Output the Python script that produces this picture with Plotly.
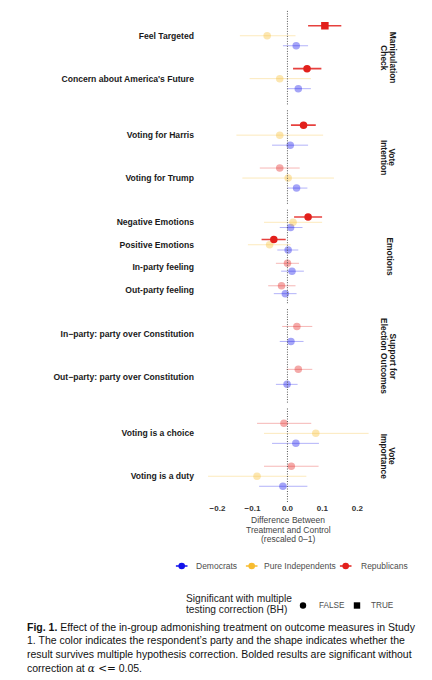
import plotly.graph_objects as go
from plotly.subplots import make_subplots

# facets (top to bottom) and the outcomes shown in each
facets = ["Manipulation Check", "Vote Intention", "Emotions",
          "Support for Election Outcomes", "Vote Importance"]
facet_strips = [["Manipulation", "Check"], ["Vote", "Intention"], ["Emotions"],
                ["Support for", "Election Outcomes"], ["Vote", "Importance"]]
facet_outcomes = [
    ["Feel Targeted", "Concern about America's Future"],
    ["Voting for Harris", "Voting for Trump"],
    ["Negative Emotions", "Positive Emotions", "In-party feeling", "Out-party feeling"],
    ["In\u2212party: party over Constitution", "Out\u2212party: party over Constitution"],
    ["Voting is a choice", "Voting is a duty"],
]

# estimates
outcome = [
    "Feel Targeted", "Feel Targeted", "Feel Targeted",
    "Concern about America's Future", "Concern about America's Future", "Concern about America's Future",
    "Voting for Harris", "Voting for Harris", "Voting for Harris",
    "Voting for Trump", "Voting for Trump", "Voting for Trump",
    "Negative Emotions", "Negative Emotions", "Negative Emotions",
    "Positive Emotions", "Positive Emotions", "Positive Emotions",
    "In-party feeling", "In-party feeling",
    "Out-party feeling", "Out-party feeling",
    "In\u2212party: party over Constitution", "In\u2212party: party over Constitution",
    "Out\u2212party: party over Constitution", "Out\u2212party: party over Constitution",
    "Voting is a choice", "Voting is a choice", "Voting is a choice",
    "Voting is a duty", "Voting is a duty", "Voting is a duty",
]
party = [
    "Democrats", "Pure Independents", "Republicans",
    "Democrats", "Pure Independents", "Republicans",
    "Democrats", "Pure Independents", "Republicans",
    "Democrats", "Pure Independents", "Republicans",
    "Democrats", "Pure Independents", "Republicans",
    "Democrats", "Pure Independents", "Republicans",
    "Democrats", "Republicans",
    "Democrats", "Republicans",
    "Democrats", "Republicans",
    "Democrats", "Republicans",
    "Democrats", "Pure Independents", "Republicans",
    "Democrats", "Pure Independents", "Republicans",
]
estimate = [0.025, -0.058, 0.107,
            0.031, -0.022, 0.056,
            0.008, -0.022, 0.046,
            0.026, 0.002, -0.022,
            0.009, 0.016, 0.059,
            0.002, -0.051, -0.039,
            0.013, 0.000,
            -0.006, -0.017,
            0.010, 0.027,
            -0.001, 0.031,
            0.024, 0.081, -0.010,
            -0.013, -0.087, 0.011]
ci_low = [-0.013, -0.136, 0.059,
          -0.001, -0.108, 0.016,
          -0.044, -0.146, 0.010,
          -0.001, -0.129, -0.079,
          -0.022, -0.067, 0.019,
          -0.029, -0.113, -0.074,
          -0.018, -0.033,
          -0.039, -0.055,
          -0.022, -0.015,
          -0.033, -0.003,
          -0.044, -0.067, -0.087,
          -0.081, -0.227, -0.067]
ci_high = [0.059, 0.023, 0.154,
           0.067, 0.067, 0.097,
           0.059, 0.102, 0.081,
           0.057, 0.133, 0.035,
           0.043, 0.099, 0.099,
           0.031, 0.009, -0.005,
           0.047, 0.033,
           0.026, 0.023,
           0.046, 0.071,
           0.029, 0.071,
           0.090, 0.232, 0.068,
           0.057, 0.054, 0.089]
sig_raw = [False, False, True,
           False, False, True,
           False, False, True,
           False, False, False,
           False, False, True,
           False, False, True,
           False, False,
           False, False,
           False, False,
           False, False,
           False, False, False,
           False, False, False]
sig_bh = [False, False, True] + [False] * 29

x_ticks = [-0.2, -0.1, 0, 0.1, 0.2]
x_ticklabels = ["\u22120.2", "\u22120.1", "0.0", "0.1", "0.2"]

party_names = ["Democrats", "Pure Independents", "Republicans"]
party_rgb = {"Democrats": (18, 18, 235), "Pure Independents": (247, 188, 48),
             "Republicans": (226, 32, 28)}
bh_labels = ["FALSE", "TRUE"]

FONT = "Liberation Sans, Arial, Helvetica, sans-serif"


def rgba(p, a):
    r, g, b = party_rgb[p]
    return "rgba(%d,%d,%d,%s)" % (r, g, b, a)


# page coords of the panel block -> paper coords
def px(x):
    return (x - 200) / 177


def py(y):
    return (502 - y) / 492


fig = make_subplots(rows=5, cols=1, shared_xaxes=True, vertical_spacing=5 / 492)

for f, outs in enumerate(facet_outcomes):
    n = len(outs)
    for i, o in enumerate(outs):
        idx = [k for k in range(len(outcome)) if outcome[k] == o]
        # dodge like position_dodge(width=0.7)
        step = 0.7 / len(idx)
        for j, k in enumerate(idx):
            ypos = (n - i) + (j - (len(idx) - 1) / 2) * step
            alpha = 1 if sig_raw[k] else 0.38
            fig.add_trace(go.Scatter(
                x=[estimate[k]], y=[ypos], mode="markers",
                marker=dict(symbol="square" if sig_bh[k] else "circle", size=7.5,
                            color=rgba(party[k], alpha), line=dict(width=0)),
                error_x=dict(type="data", symmetric=False,
                             array=[ci_high[k] - estimate[k]],
                             arrayminus=[estimate[k] - ci_low[k]],
                             color=rgba(party[k], 0.85 if sig_raw[k] else 0.32),
                             thickness=1.6 if sig_raw[k] else 1.0, width=0),
                showlegend=False, hoverinfo="skip"), row=f + 1, col=1)
    fig.update_yaxes(range=[0.4, n + 0.6], tickvals=[n - i for i in range(n)],
                     ticktext=["<b>%s</b>" % o for o in outs], row=f + 1, col=1)

fig.add_vline(x=0, line=dict(color="#555555", width=1, dash="1px,1.5px"), row="all", col=1)

fig.update_yaxes(showgrid=False, zeroline=False, showline=False, ticks="",
                 tickfont=dict(family=FONT, size=8.6, color="#1a1a1a"), ticklabelstandoff=5)
fig.update_xaxes(range=[-0.25, 0.256], tickvals=x_ticks,
                 showgrid=False, zeroline=False, showline=False, ticks="")
fig.update_xaxes(ticktext=["<b>%s</b>" % t for t in x_ticklabels],
                 tickfont=dict(family=FONT, size=8, color="#333333"), row=5, col=1)

# x axis title
for t, yp in zip(["Difference Between", "Treatment and Control", "(rescaled 0\u20131)"],
                 [520, 529.5, 539]):
    fig.add_annotation(text=t, x=px(288.3), y=py(yp), xref="paper", yref="paper",
                       showarrow=False, xanchor="center", yanchor="middle",
                       font=dict(family=FONT, size=8.5, color="#444444"))

# facet strips on the right
for f, lines in enumerate(facet_strips):
    yc = 1 - (94.6 / 492) / 2 - f * (99.6 / 492)
    xs = [389] if len(lines) == 1 else [392.5, 384]
    for line, xp in zip(lines, xs):
        fig.add_annotation(text="<b>%s</b>" % line, x=px(xp), y=yc,
                           xref="paper", yref="paper", showarrow=False, textangle=90,
                           xanchor="center", yanchor="middle",
                           font=dict(family=FONT, size=8.4, color="#1a1a1a"))

# party legend
leg_icon = [181.7, 251.7, 345.7]
leg_text = [194, 261.5, 359]
for p, xi, xt in zip(party_names, leg_icon, leg_text):
    fig.add_shape(type="line", xref="paper", yref="paper", x0=px(xi - 5.8), x1=px(xi + 5.8),
                  y0=py(566), y1=py(566), line=dict(color=rgba(p, 1), width=1.5))
    fig.add_shape(type="circle", xref="paper", yref="paper", xsizemode="pixel", ysizemode="pixel",
                  xanchor=px(xi), yanchor=py(566), x0=-3.3, x1=3.3, y0=-3.3, y1=3.3,
                  fillcolor=rgba(p, 1), line=dict(width=0))
    fig.add_annotation(text=p, x=px(xt), y=py(566), xref="paper", yref="paper", showarrow=False,
                       xanchor="left", yanchor="middle", font=dict(family=FONT, size=8.5, color="#4d4d4d"))

# significance legend
for t, yp in zip(["Significant with multiple", "testing correction (BH)"], [598.5, 609.5]):
    fig.add_annotation(text=t, x=px(184), y=py(yp), xref="paper", yref="paper", showarrow=False,
                       xanchor="left", yanchor="middle", font=dict(family=FONT, size=10.2, color="#222222"))
for lab, shp, xi, xt in zip(bh_labels, ["circle", "rect"], [303, 357], [316.5, 369]):
    fig.add_shape(type=shp, xref="paper", yref="paper", xsizemode="pixel", ysizemode="pixel",
                  xanchor=px(xi), yanchor=py(605.5), x0=-3.2, x1=3.2, y0=-3.2, y1=3.2,
                  fillcolor="black", line=dict(width=0))
    fig.add_annotation(text=lab, x=px(xt), y=py(605.5), xref="paper", yref="paper", showarrow=False,
                       xanchor="left", yanchor="middle", font=dict(family=FONT, size=8.2, color="#4d4d4d"))

# caption
caption = [
    "<b>Fig. 1.</b> Effect of the in-group admonishing treatment on outcome measures in Study",
    "1. The color indicates the respondent\u2019s party and the shape indicates whether the",
    "result survives multiple hypothesis correction. Bolded results are significant without",
    "correction at <span style=\"font-family:'DejaVu Serif'\"><i>\u03b1</i> &lt;=</span> 0.05.",
]
cap_y = [626.7, 640.3, 654, 667.7]
for t, yp in zip(caption, cap_y):
    fig.add_annotation(text=t, x=px(24.5), y=py(yp), xref="paper", yref="paper",
                       showarrow=False, xanchor="left", yanchor="middle", align="left",
                       font=dict(family=FONT, size=10.5, color="#111111"))

# page body has an 8px margin, so the figure is 8px smaller and shifted
fig.update_layout(
    width=424, height=672,
    margin=dict(l=192, r=55, t=2, b=178),
    paper_bgcolor="white", plot_bgcolor="white",
    font=dict(family=FONT),
    showlegend=False,
)

fig.write_html("out.html")
